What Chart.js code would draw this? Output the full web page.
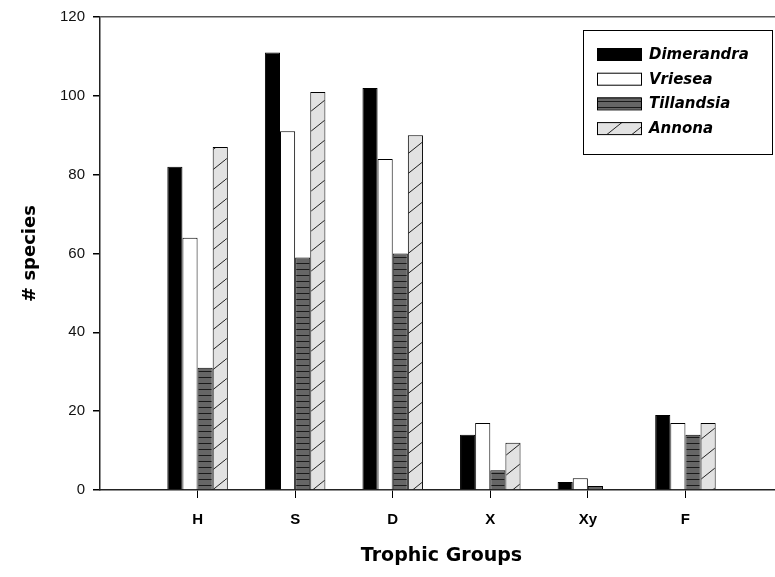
<!DOCTYPE html>
<html>
<head>
<meta charset="utf-8">
<script src="https://cdn.jsdelivr.net/npm/chart.js@4.4.1/dist/chart.umd.min.js"></script>
<style>
  html, body { margin: 0; padding: 0; background: #fff; overflow: hidden; }
  #wrap { width: 790px; height: 577px; }
</style>
</head>
<body>
<div id="wrap"><canvas id="trophicChart" width="790" height="577"></canvas></div>
<script>
// trophic groups on the x axis
const groups = ['H', 'S', 'D', 'X', 'Xy', 'F'];
const seriesNames = ['Dimerandra', 'Vriesea', 'Tillandsia', 'Annona'];

// # species per group
const dimerandra = [82, 111, 102, 14, 2, 19];
const vriesea = [64, 91, 84, 17, 3, 17];
const tillandsia = [31, 59, 60, 5, 1, 14];
const annona = [87, 101, 90, 12, 0, 17];

const yTicks = [0, 20, 40, 60, 80, 100, 120];

function stripePattern() {
    const c = document.createElement('canvas');
    c.width = 8; c.height = 6;
    const g = c.getContext('2d');
    g.fillStyle = '#666666';
    g.fillRect(0, 0, 8, 6);
    g.fillStyle = '#1a1a1a';
    g.fillRect(0, 5, 8, 1);
    return g.createPattern(c, 'repeat');
}

function hatchPattern() {
    const c = document.createElement('canvas');
    c.width = 25; c.height = 20;
    const g = c.getContext('2d');
    g.fillStyle = '#e2e2e2';
    g.fillRect(0, 0, 25, 20);
    g.strokeStyle = '#222';
    g.lineWidth = 1;
    g.beginPath();
    g.moveTo(-2.5, 22); g.lineTo(27.5, -2);
    g.stroke();
    return g.createPattern(c, 'repeat');
}

const toPoints = vals => vals.map((v, i) => ({ x: i + 1, y: v }));

const fills = ['#000000', '#ffffff', stripePattern(), hatchPattern()];
const seriesData = [dimerandra, vriesea, tillandsia, annona];

// legend drawn as a boxed panel inside the plot, like the original
const boxLegend = {
    id: 'boxLegend',
    afterDraw(chart) {
        const ctx = chart.ctx;
        const x0 = 583, y0 = 30, w = 189, h = 124;
        ctx.save();
        ctx.fillStyle = '#fff';
        ctx.fillRect(x0, y0, w, h);
        ctx.strokeStyle = '#000';
        ctx.lineWidth = 1;
        ctx.strokeRect(x0 + 0.5, y0 + 0.5, w, h);
        ctx.font = 'italic bold 15px "DejaVu Sans"';
        ctx.textBaseline = 'middle';
        chart.data.datasets.forEach((ds, i) => {
            const cy = 54 + i * 24.7;
            ctx.fillStyle = ds.backgroundColor;
            ctx.fillRect(597, cy - 6, 44, 12);
            ctx.strokeStyle = '#000';
            ctx.strokeRect(597.5, cy - 5.5, 44, 12);
            ctx.fillStyle = '#000';
            ctx.fillText(ds.label, 649, cy + 1);
        });
        ctx.restore();
    }
};

const ctx = document.getElementById('trophicChart').getContext('2d');
new Chart(ctx, {
    type: 'bar',
    data: {
        datasets: seriesNames.map((name, i) => ({
            label: name,
            data: toPoints(seriesData[i]),
            backgroundColor: fills[i],
            borderColor: '#000',
            borderWidth: 1,
            categoryPercentage: 0.62,
            barPercentage: 1
        }))
    },
    options: {
        responsive: false,
        animation: false,
        layout: { padding: { top: 14, right: 7, left: 0, bottom: 0 } },
        plugins: {
            legend: { display: false },
            tooltip: { enabled: false }
        },
        scales: {
            x: {
                type: 'linear',
                min: 0,
                max: 7,
                offset: false,
                afterFit: s => { s.height = 87; },
                afterBuildTicks: s => {
                    s.ticks = groups.map((g, i) => ({ value: i + 1 }));
                },
                border: { color: '#222', width: 1.5 },
                grid: { offset: false, drawOnChartArea: false, tickLength: 8, tickColor: '#000' },
                ticks: {
                    color: '#000',
                    padding: 13,
                    maxRotation: 0,
                    font: { family: 'Liberation Sans', size: 15, weight: 'bold' },
                    callback: v => groups[v - 1] || ''
                },
                title: {
                    display: true,
                    text: 'Trophic Groups',
                    color: '#000',
                    padding: { top: 0, bottom: 10 },
                    font: { family: 'DejaVu Sans', size: 19, weight: 'bold' }
                }
            },
            y: {
                min: 0,
                max: 120,
                afterFit: s => { s.width = 100; },
                afterBuildTicks: s => { s.ticks = yTicks.map(v => ({ value: v })); },
                border: { color: '#222', width: 1.5 },
                grid: {
                    tickLength: 7,
                    tickColor: '#000',
                    color: c => c.tick && c.tick.value === 120 ? '#555' : 'rgba(0,0,0,0)',
                    lineWidth: 1.5
                },
                ticks: {
                    color: '#111',
                    padding: 8,
                    font: { family: 'Liberation Sans', size: 15 }
                },
                title: {
                    display: true,
                    text: '# species',
                    color: '#000',
                    padding: { top: 20, bottom: 0 },
                    font: { family: 'DejaVu Sans', size: 18, weight: 'bold' }
                }
            }
        }
    },
    plugins: [boxLegend]
});
</script>
</body>
</html>
